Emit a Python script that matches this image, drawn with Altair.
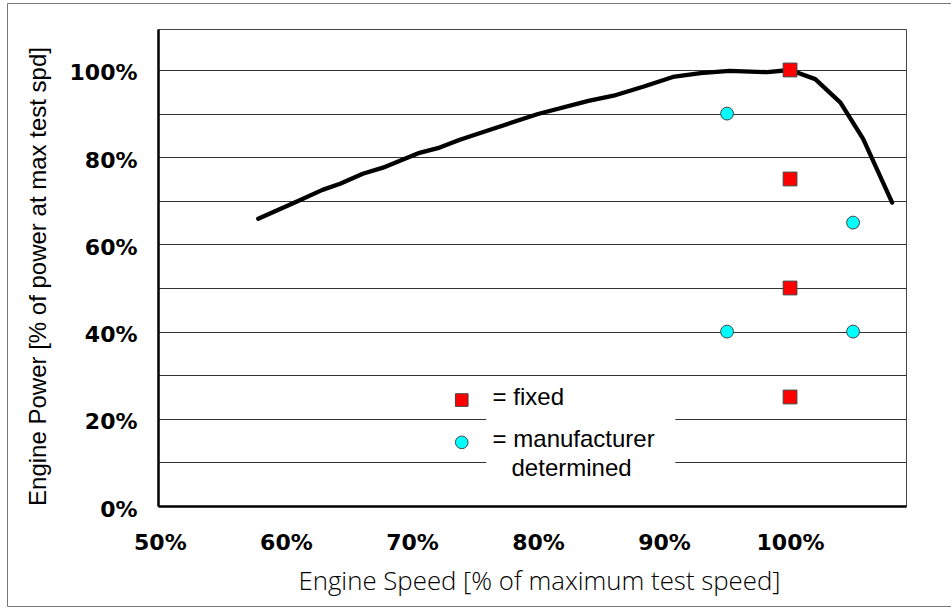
import altair as alt
import pandas as pd

# ---- data ----
curve_speed = [57.8, 60.7, 62.9, 64.3, 66.1, 67.7, 70.6, 72.2, 73.8, 76.2, 80.0,
               84.0, 86.0, 88.4, 90.7, 92.9, 95.2, 98.2, 100.0, 102.0, 104.0, 105.8, 108.1]
curve_power = [65.9, 69.6, 72.5, 73.9, 76.2, 77.6, 81.0, 82.2, 84.0, 86.3, 89.9,
               92.9, 94.1, 96.2, 98.4, 99.3, 99.8, 99.5, 100.0, 97.9, 92.5, 84.2, 69.6]

fixed_speed = [100, 100, 100, 100]
fixed_power = [100, 75, 50, 25]

mfr_speed = [95, 95, 105, 105]
mfr_power = [90, 40, 65, 40]

x_ticks = [50, 60, 70, 80, 90, 100]
y_grid = [0, 10, 20, 30, 40, 50, 60, 70, 80, 90, 100]

legend_labels = ["= fixed", "= manufacturer", "determined"]

x_title = "Engine Speed [% of maximum test speed]"
y_title = "Engine Power [% of power at max test spd]"

# ---- layout (data units) for the in-plot legend ----
legend_box = {"x": 75.9, "x2": 90.9, "y": 3.0, "y2": 28.0}
legend_text_x = [76.4, 76.4, 77.9]
legend_text_y = [23.2, 13.5, 6.9]
legend_sym_x = 73.95
legend_sq_y = 24.3
legend_ci_y = 14.6

X_DOMAIN = [49.85, 109.2]
Y_DOMAIN = [0, 109.4]

x_axis = alt.Axis(
    values=x_ticks, grid=False, ticks=False, labelExpr="datum.value + '%'",
    labelFont="DejaVu Sans", labelFontWeight="bold", labelFontSize=22, labelColor="black",
    labelPadding=26, labelBaseline="top", domainColor="black", domainWidth=2.5,
    title=x_title, titleFont="Open Sans", titleFontWeight=300, titleFontSize=25.8,
    titleColor="black", titleX=381, titleY=83, titleBaseline="alphabetic", titleAlign="center",
)
y_axis = alt.Axis(
    values=y_grid, grid=True, gridColor="#333333", gridWidth=1, ticks=False,
    labelExpr="datum.value % 20 === 0 ? datum.value + '%' : ''",
    labelFont="DejaVu Sans", labelFontWeight="bold", labelFontSize=22, labelColor="black",
    labelPadding=21, labelOffset=3, domainColor="black", domainWidth=2.5,
    title=y_title, titleFont="Liberation Sans", titleFontWeight="normal", titleFontSize=24,
    titleColor="black", titleX=-120, titleY=247, titleBaseline="middle", titleAlign="center",
    titleAngle=270,
)

def X(field):
    return alt.X(field, type="quantitative", scale=alt.Scale(domain=X_DOMAIN, nice=False, zero=False), axis=x_axis)

def Y(field):
    return alt.Y(field, type="quantitative", scale=alt.Scale(domain=Y_DOMAIN, nice=False), axis=y_axis)

curve_df = pd.DataFrame({"speed": curve_speed, "power": curve_power})
fixed_df = pd.DataFrame({"speed": fixed_speed, "power": fixed_power})
mfr_df = pd.DataFrame({"speed": mfr_speed, "power": mfr_power})
box_df = pd.DataFrame([legend_box])
text_df = pd.DataFrame({"x": legend_text_x, "y": legend_text_y, "t": legend_labels})
sq_df = pd.DataFrame({"x": [legend_sym_x], "y": [legend_sq_y]})
ci_df = pd.DataFrame({"x": [legend_sym_x], "y": [legend_ci_y]})

frame = alt.Chart(pd.DataFrame({"a": [0]})).mark_rect(
    fill=None, stroke="#777777", strokeWidth=1
).encode(x=alt.value(-150.5), x2=alt.value(800), y=alt.value(-25.5), y2=alt.value(577.5))

box = alt.Chart(box_df).mark_rect(fill="white", stroke=None).encode(
    x=X("x"), x2="x2", y=Y("y"), y2="y2"
)

line = alt.Chart(curve_df).mark_line(
    color="black", strokeWidth=4.3, strokeCap="round", strokeJoin="round"
).encode(x=X("speed"), y=Y("power"), order=alt.Order("speed:Q"))

fixed = alt.Chart(fixed_df).mark_point(
    shape="square", size=190, filled=True, fill="#ff0000", stroke="#444444", strokeWidth=1, opacity=1
).encode(x=X("speed"), y=Y("power"))

mfr = alt.Chart(mfr_df).mark_point(
    shape="circle", size=165, filled=True, fill="#00ffff", stroke="#444444", strokeWidth=1, opacity=1
).encode(x=X("speed"), y=Y("power"))

leg_sq = alt.Chart(sq_df).mark_point(
    shape="square", size=160, filled=True, fill="#ff0000", stroke="#444444", strokeWidth=1, opacity=1
).encode(x=X("x"), y=Y("y"))

leg_ci = alt.Chart(ci_df).mark_point(
    shape="circle", size=160, filled=True, fill="#00ffff", stroke="#444444", strokeWidth=1, opacity=1
).encode(x=X("x"), y=Y("y"))

leg_text = alt.Chart(text_df).mark_text(
    align="left", baseline="alphabetic", font="Liberation Sans", fontSize=24, color="black"
).encode(x=X("x"), y=Y("y"), text="t:N")

chart = alt.layer(frame, box, line, fixed, mfr, leg_sq, leg_ci, leg_text).properties(
    width=748, height=477, autosize="none",
    padding={"left": 158, "top": 29, "right": 45, "bottom": 102},
    background="white",
).configure_view(stroke="#444444", strokeWidth=1)

chart.save("out.html", embed_options={"renderer": "svg", "actions": False})
